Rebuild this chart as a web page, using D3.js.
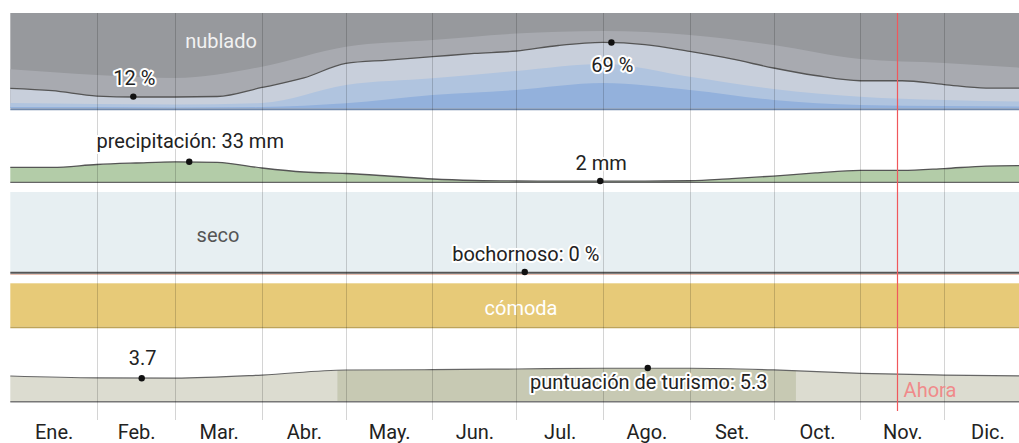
<!DOCTYPE html>
<html><head><meta charset="utf-8">
<script src="https://cdn.jsdelivr.net/npm/d3@7"></script>
<style>
body{margin:0;background:#fff;overflow:hidden}
svg{display:block}
text{font-family:Roboto,"Noto Sans",sans-serif;font-size:20px}
</style></head>
<body><svg id="c" width="1019" height="443"></svg>
<script>
// ---------- data ----------
const months = ["Ene.","Feb.","Mar.","Abr.","May.","Jun.","Jul.","Ago.","Set.","Oct.","Nov.","Dic."];
const monthStartDays = [0,31,59,90,120,151,181,212,243,273,304,334];
const monthLengths = [31,28,31,30,31,30,31,31,30,31,30,31];

// semi-monthly sample days
const lineDays = [0,15,31,45,59,74,90,105,120,135,151,166,181,196,212,227,243,258,273,288,304,319,334,349,365];
// cumulative % of time clear + mostly clear + partly cloudy (the drawn line)
const cloudPartlyTop = [20.7,18.2,12.6,11.6,11.6,12.1,21.6,31.6,47,50.5,54,57.4,60,65.8,69,66.8,59.5,51.6,42.1,34.2,28.7,28.7,24.7,21,21];
// precipitation (mm, 31-day sliding)
const precipMm = [24,24,28.5,30.9,32.8,32,22.9,16.5,14.1,10.1,5.3,2.9,2.1,2,2,2,2.5,6,10,15,19,19,22,26,27];

// month-boundary sample days
const layerDays = [0,31,59,90,120,151,181,212,243,273,304,334,365];
const cloudMostlyCloudyTop = [40.7,34.7,31.6,43.5,64.5,71.6,78.4,81,76.8,66.3,51.6,47.4,41.6];
const cloudMostlyClearTop = [5.3,4.2,3.7,5.3,24.2,31.3,39,46.3,33,20,11.9,8.4,6.6];
const cloudClearTop = [1,1,0.5,1,5,13.7,19,26.3,19,8.4,3.2,2.1,1.6];
const muggyPct = [0,0,0,0,0,0,0,0,0,0,0,0,0];
const tourismScore = [4.05,3.75,3.72,4.2,4.99,5.04,5.15,5.27,5.27,5.0,4.47,4.2,4.05];

const comfortFrom = [0], comfortTo = [365], comfortLabel = ["cómoda"];
const bestFrom = 117, bestTo = 281; // highlighted tourism window (days)
const nowDay = 317;

// annotations
const cloudNoteDays = [44,215], cloudNoteVals = [12,69], cloudNoteLabels = ["12 %","69 %"];
const precipNoteDays = [64,211], precipNoteVals = [33,2], precipNoteLabels = ["precipitación: 33 mm","2 mm"];
const muggyNoteDays = [184], muggyNoteVals = [0], muggyNoteLabels = ["bochornoso: 0 %"];
const tourNoteDays = [47,228], tourNoteVals = [3.7,5.3], tourNoteLabels = ["3.7","puntuación de turismo: 5.3"];

// ---------- scales ----------
const svg = d3.select("#c");
const x = d3.scaleLinear().domain([0,365]).range([10.3,1030.8]);
const yCloud = d3.scaleLinear().domain([0,100]).range([108,13]);
const yPrecip = d3.scaleLinear().domain([0,33]).range([182.3,161.7]);
const yMuggy = d3.scaleLinear().domain([0,100]).range([272,192]);
const yTour = d3.scaleLinear().domain([0,10]).range([401.7,338.2]);
const curve = d3.curveMonotoneX;

function halo(sel, col){ return sel.attr("stroke", col||"#fff").attr("stroke-width",4).attr("stroke-linejoin","round").attr("paint-order","stroke"); }

const root = svg.append("g");

// ---------- cloud band ----------
const gc = root.append("g");
const L = layerDays.map((d,i)=>({d, mc:cloudMostlyCloudyTop[i], mcl:cloudMostlyClearTop[i], cl:cloudClearTop[i]}));
const LL = lineDays.map((d,i)=>({d, v:cloudPartlyTop[i]}));
gc.append("rect").attr("x",x(0)).attr("y",yCloud(100)).attr("width",x(365)-x(0)).attr("height",yCloud(0)-yCloud(100)).attr("fill","#97999d");
gc.append("path").datum(L).attr("fill","#a8aab0").attr("d",d3.area().x(d=>x(d.d)).y0(yCloud(0)).y1(d=>yCloud(d.mc)).curve(curve));
gc.append("path").datum(LL).attr("fill","#c8cfdb").attr("d",d3.area().x(d=>x(d.d)).y0(yCloud(0)).y1(d=>yCloud(d.v)).curve(curve));
gc.append("path").datum(L).attr("fill","#b0c4df").attr("d",d3.area().x(d=>x(d.d)).y0(yCloud(0)).y1(d=>yCloud(d.mcl)).curve(curve));
gc.append("path").datum(L).attr("fill","#93b1dc").attr("d",d3.area().x(d=>x(d.d)).y0(yCloud(0)).y1(d=>yCloud(d.cl)).curve(curve));
gc.append("path").datum(LL).attr("fill","none").attr("stroke","#555").attr("stroke-width",1.3).attr("d",d3.line().x(d=>x(d.d)).y(d=>yCloud(d.v)).curve(curve));
gc.append("line").attr("x1",x(0)).attr("x2",x(365)).attr("y1",109.2).attr("y2",109.2).attr("stroke","#7189ab").attr("stroke-width",2);
gc.append("text").attr("x",221).attr("y",48).attr("text-anchor","middle").attr("fill","#f2f2f2").text("nublado");

// ---------- precipitation ----------
const gp = root.append("g");
const P = lineDays.map((d,i)=>({d, v:precipMm[i]}));
gp.append("path").datum(P).attr("fill","#b3cca8").attr("d",d3.area().x(d=>x(d.d)).y0(yPrecip(0)).y1(d=>yPrecip(d.v)).curve(curve));
gp.append("path").datum(P).attr("fill","none").attr("stroke","#555").attr("stroke-width",1.3).attr("d",d3.line().x(d=>x(d.d)).y(d=>yPrecip(d.v)).curve(curve));
gp.append("line").attr("x1",x(0)).attr("x2",x(365)).attr("y1",yPrecip(0)).attr("y2",yPrecip(0)).attr("stroke","#666").attr("stroke-width",1.2);

// ---------- humidity ----------
const gm = root.append("g");
gm.append("rect").attr("x",x(0)).attr("y",yMuggy(100)).attr("width",x(365)-x(0)).attr("height",yMuggy(0)-yMuggy(100)).attr("fill","#e7eff2");
gm.append("line").attr("x1",x(0)).attr("x2",x(365)).attr("y1",yMuggy(0)+2.5).attr("y2",yMuggy(0)+2.5).attr("stroke","#e9c0b2").attr("stroke-width",1);
const M = layerDays.map((d,i)=>({d, v:muggyPct[i]}));
gm.append("path").datum(M).attr("fill","none").attr("stroke","#555").attr("stroke-width",2).attr("d",d3.line().x(d=>x(d.d)).y(d=>yMuggy(d.v)+0.7).curve(curve));
gm.append("text").attr("x",218).attr("y",242).attr("text-anchor","middle").attr("fill","#555").text("seco");

// ---------- comfort ----------
const gt = root.append("g");
comfortFrom.forEach((f,i)=>{
  gt.append("rect").attr("x",x(f)).attr("y",283.3).attr("width",x(comfortTo[i])-x(f)).attr("height",43.5).attr("fill","#e7ca78");
  gt.append("line").attr("x1",x(f)).attr("x2",x(comfortTo[i])).attr("y1",327.5).attr("y2",327.5).attr("stroke","#bfa458").attr("stroke-width",1.5);
  gt.append("text").attr("x",521).attr("y",315).attr("text-anchor","middle").attr("fill","#fff").text(comfortLabel[i]);
});

// ---------- tourism ----------
const gs = root.append("g");
const T = layerDays.map((d,i)=>({d, v:tourismScore[i]}));
const tArea = d3.area().x(d=>x(d.d)).y0(yTour(0)).y1(d=>yTour(d.v)).curve(curve);
gs.append("path").datum(T).attr("fill","#dcdcd0").attr("d",tArea);
gs.append("clipPath").attr("id","best").append("rect").attr("x",x(bestFrom)).attr("y",300).attr("width",x(bestTo)-x(bestFrom)).attr("height",110);
gs.append("path").datum(T).attr("fill","#c7c9b3").attr("clip-path","url(#best)").attr("d",tArea);
gs.append("path").datum(T).attr("fill","none").attr("stroke","#666").attr("stroke-width",1.2).attr("d",d3.line().x(d=>x(d.d)).y(d=>yTour(d.v)).curve(curve));
gs.append("line").attr("x1",x(0)).attr("x2",x(365)).attr("y1",yTour(0)).attr("y2",yTour(0)).attr("stroke","#777").attr("stroke-width",1.5);

// ---------- grid ----------
const gg = root.append("g");
gg.selectAll("line").data(monthStartDays.slice(1)).join("line")
  .attr("x1",d=>Math.round(x(d))+0.5).attr("x2",d=>Math.round(x(d))+0.5).attr("y1",13).attr("y2",420)
  .attr("stroke","rgba(0,0,0,0.17)").attr("stroke-width",1);

// now line
root.append("line").attr("x1",Math.round(x(nowDay))+0.5).attr("x2",Math.round(x(nowDay))+0.5).attr("y1",13).attr("y2",411)
  .attr("stroke","#f0585c").attr("stroke-width",1.2);
root.append("text").attr("x",x(nowDay)+7).attr("y",397).attr("fill","#f08a8a").text("Ahora");

// ---------- annotations ----------
const ga = root.append("g");
function notes(days, vals, labels, ys, offs){
  days.forEach((d,i)=>{
    ga.append("circle").attr("cx",x(d)).attr("cy",ys(vals[i])).attr("r",3.2).attr("fill","#111");
    halo(ga.append("text").attr("x",x(d)+1).attr("y",ys(vals[i])+offs[i]).attr("text-anchor","middle").attr("fill","#222").text(labels[i]));
  });
}
notes(cloudNoteDays, cloudNoteVals, cloudNoteLabels, yCloud, [-12,30]);
notes(precipNoteDays, precipNoteVals, precipNoteLabels, yPrecip, [-13.5,-11]);
notes(muggyNoteDays, muggyNoteVals, muggyNoteLabels, yMuggy, [-11.5]);
notes(tourNoteDays, tourNoteVals, tourNoteLabels, yTour, [-13,20.5]);

// ---------- x axis (month labels) ----------
const axis = d3.axisBottom(x).tickValues(monthStartDays.map((d,i)=>d+monthLengths[i]/2)).tickFormat((d,i)=>months[i]).tickSize(0).tickPadding(0);
const ax = root.append("g").attr("transform","translate(0,421)").call(axis);
ax.select(".domain").remove();
ax.selectAll("text").attr("font-size",20).attr("font-family","Roboto,'Noto Sans',sans-serif").attr("fill","#222").attr("dy","0.9em");
</script>
</body></html>
